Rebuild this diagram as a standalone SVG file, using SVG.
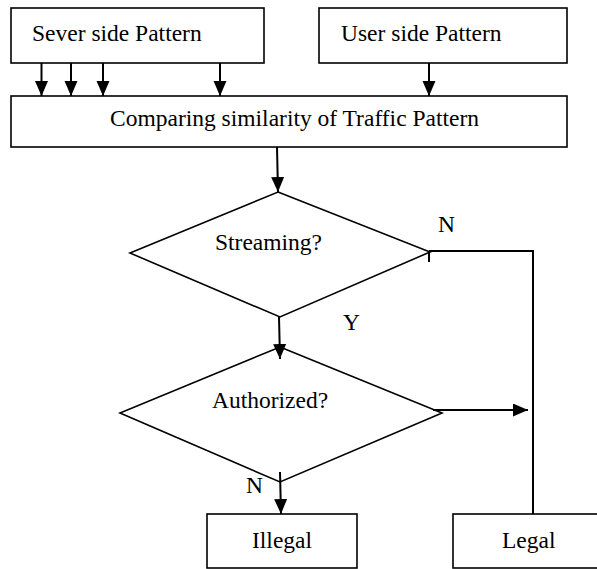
<svg xmlns="http://www.w3.org/2000/svg" width="597" height="569" viewBox="0 0 597 569">
<defs>
<style>
.box{fill:#fff;stroke:#000;stroke-width:1.6}
.ln{fill:none;stroke:#000;stroke-width:2}
.t{font-family:"Liberation Serif","Times New Roman",serif;font-size:23.5px;fill:#000}
</style>
<marker id="ah" markerUnits="userSpaceOnUse" markerWidth="16" markerHeight="14" refX="15" refY="6.5" orient="auto" viewBox="0 0 16 14">
<path d="M0,0 L15,6.5 L0,13 Z" fill="#000"/>
</marker>
</defs>
<rect width="597" height="569" fill="#fff"/>
<g id="sever">
<rect class="box" x="11" y="8" width="253" height="55"/>
<text class="t" x="32" y="41">Sever side Pattern</text>
</g>
<g id="user">
<rect class="box" x="319" y="8" width="248" height="55"/>
<text class="t" x="341" y="41">User side Pattern</text>
</g>
<g id="compare">
<rect class="box" x="11" y="96" width="556" height="51"/>
<text class="t" x="110" y="126">Comparing similarity of Traffic Pattern</text>
</g>
<g id="streaming">
<polygon class="box" points="278,192 430,252 280,317 130,253"/>
<text class="t" x="215" y="250">Streaming?</text>
</g>
<g id="authorized">
<polygon class="box" points="280,347 442,413 280,482 120,413"/>
<text class="t" x="212" y="408">Authorized?</text>
</g>
<g id="illegal">
<rect class="box" x="207" y="514" width="150" height="54"/>
<text class="t" x="252" y="548">Illegal</text>
</g>
<g id="legal">
<rect class="box" x="453" y="514" width="150" height="54"/>
<text class="t" x="502" y="548">Legal</text>
</g>
<g id="connectors">
<line class="ln" x1="41.5" y1="63" x2="41.5" y2="96" marker-end="url(#ah)"/>
<line class="ln" x1="71" y1="63" x2="71" y2="96" marker-end="url(#ah)"/>
<line class="ln" x1="103" y1="63" x2="103" y2="96" marker-end="url(#ah)"/>
<line class="ln" x1="220" y1="63" x2="220" y2="96" marker-end="url(#ah)"/>
<line class="ln" x1="429" y1="63" x2="429" y2="96" marker-end="url(#ah)"/>
<line class="ln" x1="277" y1="147" x2="278" y2="192" marker-end="url(#ah)"/>
<line class="ln" x1="279" y1="317" x2="280" y2="359" marker-end="url(#ah)"/>
<line class="ln" x1="433" y1="410" x2="528" y2="410" marker-end="url(#ah)"/>
<line class="ln" x1="280" y1="472" x2="281" y2="514" marker-end="url(#ah)"/>
<polyline class="ln" points="429,251 533,251 533,514"/>
<line class="ln" x1="429" y1="251" x2="429" y2="262"/>
<text class="t" x="438" y="232">N</text>
<text class="t" x="343" y="330">Y</text>
<text class="t" x="246" y="493">N</text>
</g>
</svg>
